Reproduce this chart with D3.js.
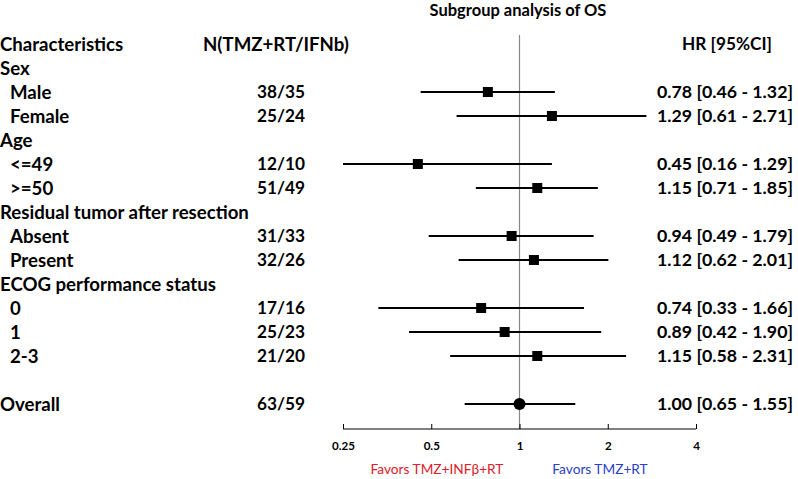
<!DOCTYPE html>
<html>
<head>
<meta charset="utf-8">
<script src="https://cdn.jsdelivr.net/npm/d3@7"></script>
<style>
  body { margin: 0; background: #fff; }
  text { font-family: Lato, "Open Sans", sans-serif; }
</style>
</head>
<body>
<svg id="chart" width="798" height="479"></svg>
<script>
// rows of the forest plot (null = heading or blank row)
const labels = ["Sex", "Male", "Female", "Age", "<=49", ">=50", "Residual tumor after resection",
  "Absent", "Present", "ECOG performance status", "0", "1", "2-3", "", "Overall"];
const isHeading = [true, false, false, true, false, false, true, false, false, true, false, false, false, true, true];
const nCounts = [null, "38/35", "25/24", null, "12/10", "51/49", null, "31/33", "32/26", null, "17/16", "25/23", "21/20", null, "63/59"];
const hr = [null, 0.78, 1.29, null, 0.45, 1.15, null, 0.94, 1.12, null, 0.74, 0.89, 1.15, null, 1.00];
const lo = [null, 0.46, 0.61, null, 0.16, 0.71, null, 0.49, 0.62, null, 0.33, 0.42, 0.58, null, 0.65];
const hi = [null, 1.32, 2.71, null, 1.29, 1.85, null, 1.79, 2.01, null, 1.66, 1.90, 2.31, null, 1.55];
const tickValues = [0.25, 0.5, 1, 2, 4];

const svg = d3.select("#chart");

// pick a font size so that a sample string has the width seen in the original
function fitSize(sample, width, weight) {
  const t = svg.append("text").attr("font-size", 100).attr("font-weight", weight).text(sample);
  const w = t.node().getComputedTextLength();
  t.remove();
  return 100 * width / w;
}
const labelFs = fitSize("Residual tumor after resection", 249, "bold");
const nHeadFs = fitSize("N(TMZ+RT/IFNb)", 146, "bold");
const nFs = fitSize("38/35", 48, "bold");
const hrFs = fitSize("0.78 [0.46 - 1.32]", 136, "bold");
const hrHeadFs = fitSize("HR [95%CI]", 90, "bold");
const titleFs = fitSize("Subgroup analysis of OS", 177, "bold");
const favFs = fitSize("Favors TMZ+INFβ+RT", 133, "normal");
const tickFs = fitSize("0.25", 23, "bold");

const x = d3.scaleLog().base(2).domain([0.25, 4]).range([343, 696]);
// row index 0 is the column header row
const y = d3.scaleLinear().domain([0, 1]).range([44, 68]);
const axisY = 429;

// title
svg.append("text")
  .attr("x", 518).attr("y", 16)
  .attr("text-anchor", "middle")
  .attr("font-size", titleFs).attr("font-weight", "bold")
  .text("Subgroup analysis of OS");

// column headers
const hdr = svg.append("g").attr("font-weight", "bold");
hdr.append("text").attr("x", 0).attr("y", y(0)).attr("dy", "0.35em")
  .attr("font-size", labelFs).text("Characteristics");
hdr.append("text").attr("x", 276).attr("y", y(0)).attr("dy", "0.35em").attr("text-anchor", "middle")
  .attr("font-size", nHeadFs).text("N(TMZ+RT/IFNb)");
hdr.append("text").attr("x", 727).attr("y", y(0)).attr("dy", "0.35em").attr("text-anchor", "middle")
  .attr("font-size", hrHeadFs).text("HR [95%CI]");

// reference line at HR = 1
svg.append("line")
  .attr("x1", x(1)).attr("x2", x(1))
  .attr("y1", 35).attr("y2", axisY)
  .attr("stroke", "#888").attr("stroke-width", 1.2);

const rows = labels.map((l, i) => ({
  label: l, heading: isHeading[i], n: nCounts[i], hr: hr[i], lo: lo[i], hi: hi[i], i: i + 1
}));

const g = svg.append("g").attr("font-weight", "bold");

g.selectAll(".lab").data(rows).enter().append("text")
  .attr("x", d => d.heading ? 0 : 10)
  .attr("y", d => y(d.i)).attr("dy", "0.35em")
  .attr("font-size", labelFs)
  .text(d => d.label);

const est = rows.filter(d => d.hr != null);

g.selectAll(".n").data(est).enter().append("text")
  .attr("x", 281).attr("y", d => y(d.i)).attr("dy", "0.35em")
  .attr("text-anchor", "middle")
  .attr("font-size", nFs)
  .text(d => d.n);

g.selectAll(".hr").data(est).enter().append("text")
  .attr("x", 793).attr("y", d => y(d.i)).attr("dy", "0.35em")
  .attr("text-anchor", "end")
  .attr("font-size", hrFs)
  .text(d => `${d.hr.toFixed(2)} [${d.lo.toFixed(2)} - ${d.hi.toFixed(2)}]`);

// confidence intervals (clipped to axis range)
svg.selectAll(".ci").data(est).enter().append("line")
  .attr("x1", d => x(Math.max(d.lo, 0.25)))
  .attr("x2", d => x(Math.min(d.hi, 4)))
  .attr("y1", d => y(d.i)).attr("y2", d => y(d.i))
  .attr("stroke", "#000").attr("stroke-width", 2);

// point estimates
svg.selectAll(".pt").data(est.filter(d => d.label !== "Overall")).enter().append("rect")
  .attr("x", d => x(d.hr) - 5).attr("y", d => y(d.i) - 5)
  .attr("width", 10).attr("height", 10)
  .attr("fill", "#000");

svg.selectAll(".ov").data(est.filter(d => d.label === "Overall")).enter().append("circle")
  .attr("cx", d => x(d.hr)).attr("cy", d => y(d.i))
  .attr("r", 6).attr("fill", "#000");

// x axis with ticks pointing up
const axis = svg.append("g")
  .attr("transform", `translate(0,${axisY})`)
  .call(d3.axisTop(x).tickValues(tickValues).tickFormat(d => String(d)).tickSize(5).tickSizeOuter(0));
axis.select(".domain").attr("stroke", "#000").attr("d", `M${x(0.25)},0H${x(4)}`);
axis.selectAll(".tick line").attr("stroke", "#000");
axis.selectAll(".tick text")
  .attr("y", 21).attr("dy", 0)
  .attr("font-family", "Lato, sans-serif")
  .attr("font-size", tickFs).attr("font-weight", "bold").attr("fill", "#000");

// favour labels
svg.append("text")
  .attr("x", 437).attr("y", 474).attr("text-anchor", "middle")
  .attr("font-size", favFs).attr("fill", "#e0202a")
  .text("Favors TMZ+INFβ+RT");
svg.append("text")
  .attr("x", 600).attr("y", 474).attr("text-anchor", "middle")
  .attr("font-size", favFs).attr("fill", "#2b3fc8")
  .text("Favors TMZ+RT");
</script>
</body>
</html>
